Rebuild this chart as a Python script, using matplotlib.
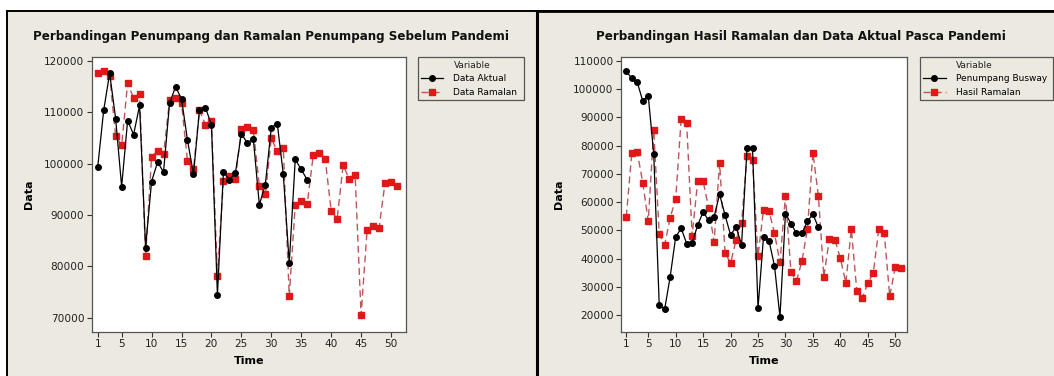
import matplotlib
matplotlib.use("Agg")
import matplotlib.pyplot as plt
from matplotlib.patches import Rectangle
from matplotlib.lines import Line2D

# ---------------- data ----------------
time_left_actual = list(range(1, 37))
data_aktual = [99290, 110390, 117610, 108770, 95550, 108390, 105680, 111350, 83680, 96520,
               100320, 98390, 111740, 114970, 112650, 104580, 97940, 110400, 110900, 107610,
               74390, 98390, 96840, 98130, 105870, 104000, 104840, 92000, 95940, 107030,
               107810, 98000, 80580, 100840, 98900, 96840]
time_left_fc = list(range(1, 52))
data_ramalan = [117610, 118000, 117160, 105350, 103610, 115680, 112770, 113610, 82000, 101350,
                102520, 101810, 112320, 112710, 111810, 100450, 98900, 110450, 107610, 108390,
                78190, 96650, 97610, 96970, 106840, 107230, 106520, 95740, 94060, 104970,
                102390, 103030, 74190, 91940, 92770, 92130, 101610, 102000, 100970, 90840,
                89290, 99680, 97100, 97810, 70520, 87030, 87940, 87480, 96320, 96520, 95680]

time_right_actual = list(range(1, 37))
penumpang_busway = [106340, 103860, 102440, 95830, 97720, 77060, 23580, 22160, 33610, 47660,
                    50730, 45300, 45540, 51800, 56520, 53570, 54870, 62770, 55330, 48370,
                    51200, 44830, 79190, 79190, 22400, 47700, 46360, 37390, 19330, 55930,
                    52390, 48960, 48960, 53210, 55690, 51090]
time_right_fc = list(range(1, 52))
hasil_ramalan = [54870, 77300, 77650, 66910, 53210, 85560, 48720, 44950, 54510, 61120,
                 89460, 87920, 48020, 67380, 67380, 58050, 45890, 73870, 42110, 38330,
                 46600, 52500, 76470, 74820, 40930, 57300, 56990, 48960, 38690, 62190,
                 35150, 32080, 39040, 50380, 77530, 62190, 33490, 47070, 46720, 40110,
                 31370, 50380, 28650, 25940, 31370, 34800, 50380, 48960, 26650, 36920,
                 36560]

xticks = [1, 5, 10, 15, 20, 25, 30, 35, 40, 45, 50]
yticks_left = [70000, 80000, 90000, 100000, 110000, 120000]
yticks_right = [20000, 30000, 40000, 50000, 60000, 70000, 80000, 90000, 100000, 110000]

title_left = "Perbandingan Penumpang dan Ramalan Penumpang Sebelum Pandemi"
title_right = "Perbandingan Hasil Ramalan dan Data Aktual Pasca Pandemi"
labels_left = ["Data Aktual", "Data Ramalan"]
labels_right = ["Penumpang Busway", "Hasil Ramalan"]
legend_title = "Variable"

# ---------------- style ----------------
W, H = 1054, 376
BEIGE = "#ECE9E0"
LINE_RED = "#B9575A"
MARK_RED = "#E01818"

fig = plt.figure(figsize=(W / 100, H / 100), dpi=100)
fig.patch.set_facecolor("white")


def fx(px):
    return px / W


def fy(py):
    return 1 - py / H


# background panels
fig.patches.append(Rectangle((fx(7), fy(400)), fx(1100), fy(10.7) - fy(400),
                             transform=fig.transFigure, facecolor=BEIGE,
                             edgecolor="black", linewidth=1.4, zorder=-10))
fig.add_artist(Line2D([fx(537), fx(537)], [fy(10.7), 0], transform=fig.transFigure,
                      color="black", linewidth=2.2, zorder=-5))
fig.add_artist(Line2D([fx(537), 1.0], [fy(10.7), fy(10.7)], transform=fig.transFigure,
                      color="black", linewidth=2.0, zorder=-5))


def make_panel(ax_rect, xlim, ylim, yticks, t_a, y_a, t_f, y_f, labels,
               title, title_x, leg_box, leg_text_x):
    ax = fig.add_axes(ax_rect)
    ax.set_zorder(1)
    ax.set_facecolor("white")
    ax.plot(t_a, y_a, color="black", linewidth=0.9, marker="o", markersize=4,
            markerfacecolor="black", markeredgecolor="black", label=labels[0], zorder=3)
    ax.plot(t_f, y_f, color=LINE_RED, linewidth=1.0, linestyle=(0, (5, 3)),
            marker="s", markersize=4, markerfacecolor=MARK_RED,
            markeredgecolor=MARK_RED, label=labels[1], zorder=2)
    ax.set_xlim(*xlim)
    ax.set_ylim(*ylim)
    ax.set_xticks(xticks)
    ax.set_yticks(yticks)
    ax.set_yticklabels([str(v) for v in yticks])
    ax.tick_params(axis="both", labelsize=7.6, colors="#333333", length=3.5,
                   width=0.8, pad=2, direction="out")
    ax.tick_params(axis="both", labelcolor="#222222")
    for s in ax.spines.values():
        s.set_color("#555555")
        s.set_linewidth(0.9)
    ax.set_xlabel("Time", fontsize=8, fontweight="bold", labelpad=5)
    ax.set_ylabel("Data", fontsize=8, fontweight="bold", labelpad=7)
    fig.text(title_x, fy(36.7), title, ha="center", va="center",
             fontsize=8.55, fontweight="bold", color="#111111")
    x0, y0, x1, y1 = leg_box
    leg = ax.legend(loc="upper left",
                    bbox_to_anchor=(fx(x0), fy(y1), fx(x1) - fx(x0), fy(y0) - fy(y1)),
                    bbox_transform=fig.transFigure, mode="expand", title=" ",
                    fontsize=6.5, title_fontsize=6.5, frameon=True, fancybox=False,
                    facecolor=BEIGE, edgecolor="#555555", framealpha=1,
                    handlelength=2.5, handletextpad=1.1, borderpad=0.35,
                    labelspacing=0.55, borderaxespad=0)
    leg.get_frame().set_linewidth(0.9)
    fig.text(fx(leg_text_x), fy(65), legend_title, ha="left", va="center",
             fontsize=6.5, color="#222222", zorder=5)
    return ax


make_panel([fx(92), fy(331.7), fx(405.7) - fx(92), fy(57) - fy(331.7)],
           (0.05, 52.45), (67290, 120780), yticks_left,
           time_left_actual, data_aktual, time_left_fc, data_ramalan,
           labels_left, title_left, fx(271), (417.7, 56.7, 524.3, 101), 454)

make_panel([fx(621.3), fy(331.7), fx(907.3) - fx(621.3), fy(57) - fy(331.7)],
           (0.09, 52.2), (14080, 111420), yticks_right,
           time_right_actual, penumpang_busway, time_right_fc, hasil_ramalan,
           labels_right, title_right, fx(801), (920, 56.7, 1053, 101), 955.7)

fig.savefig("out.png", dpi=100, facecolor=fig.get_facecolor())
